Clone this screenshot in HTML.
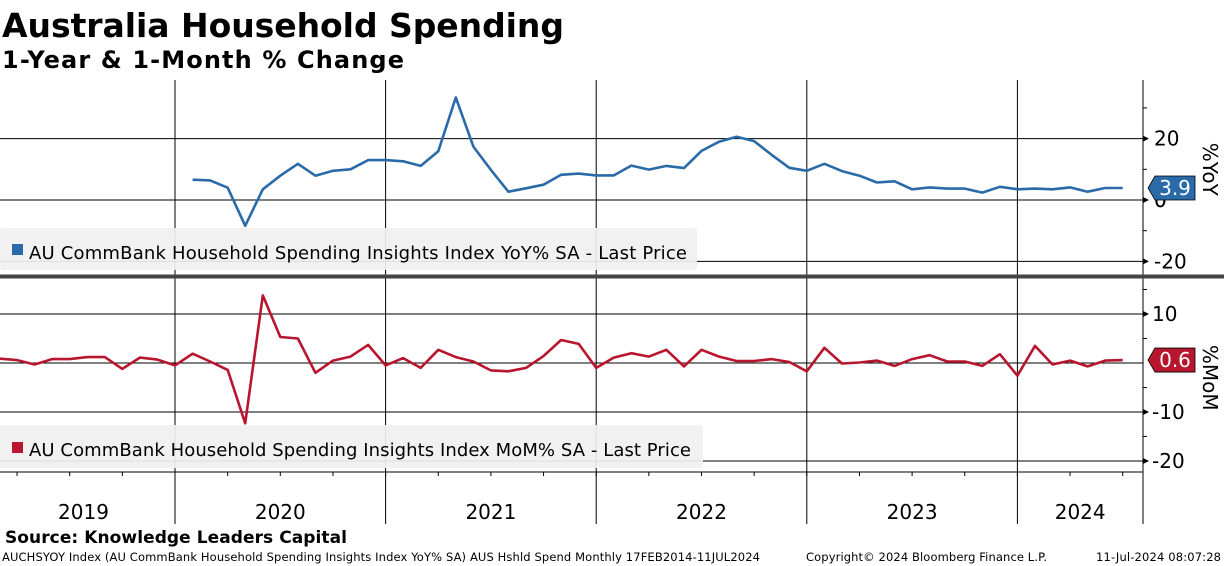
<!DOCTYPE html>
<html><head><meta charset="utf-8"><style>
html,body{margin:0;padding:0;background:#fff;}
svg{display:block;font-family:"DejaVu Sans","Liberation Sans",sans-serif;}
</style></head><body>
<svg id="c" width="1224" height="566" viewBox="0 0 1224 566" xmlns="http://www.w3.org/2000/svg">
<text x="2" y="37" font-size="33" font-weight="bold" textLength="562">Australia Household Spending</text>
<text x="2" y="68" font-size="24" font-weight="bold" textLength="402">1-Year &amp; 1-Month % Change</text>
<g id="grid"></g>
<g id="top-legend">
<rect x="0" y="228" width="697" height="42" rx="3" fill="#f0f0f0" opacity="0.92"/>
<rect x="12" y="244" width="11" height="11" fill="#2a6aa8"/>
<text x="29" y="259" font-size="18" textLength="658">AU CommBank Household Spending Insights Index YoY% SA - Last Price</text>
</g>
<g id="bot-legend">
<rect x="0" y="425" width="703" height="43" rx="3" fill="#f0f0f0" opacity="0.92"/>
<rect x="12" y="442" width="11" height="11" fill="#b8152e"/>
<text x="29" y="456" font-size="18" textLength="662">AU CommBank Household Spending Insights Index MoM% SA - Last Price</text>
</g>
<g id="series"></g>
<rect x="0" y="274.5" width="1224" height="4" fill="#444"/>
<text x="5" y="543" font-size="17" font-weight="bold" textLength="342">Source: Knowledge Leaders Capital</text>
<text x="2" y="561" font-size="11.5" textLength="758">AUCHSYOY Index (AU CommBank Household Spending Insights Index YoY% SA) AUS Hshld Spend  Monthly 17FEB2014-11JUL2024</text>
<text x="806" y="561" font-size="11.5" textLength="241">Copyright© 2024 Bloomberg Finance L.P.</text>
<text x="1096" y="561" font-size="11.5" textLength="125">11-Jul-2024 08:07:28</text>
</svg>
<script>
// month index 0 = Jan 2019
const years = ["2019","2020","2021","2022","2023","2024"];
const yoyStart = 13;
const yoyValues = [6.6,6.4,4.0,-8.4,3.5,7.9,11.8,7.9,9.5,10.0,13.0,
 13.0,12.6,11.1,15.9,33.4,17.4,9.8,2.7,3.8,5.0,8.2,8.6,
 8.0,8.0,11.2,9.9,11.1,10.4,16.0,19.0,20.6,19.2,14.7,10.5,
 9.5,11.8,9.4,7.9,5.7,6.1,3.5,4.1,3.7,3.7,2.4,4.3,
 3.5,3.7,3.5,4.1,2.7,3.9,3.9];
const momStart = 2;
const momValues = [0.9,0.6,-0.3,0.8,0.8,1.2,1.2,-1.2,1.1,0.7,
 -0.5,1.9,0.3,-1.4,-12.3,13.8,5.3,5.0,-2.0,0.5,1.3,3.7,
 -0.5,1.0,-1.0,2.7,1.2,0.3,-1.5,-1.7,-1.0,1.4,4.7,3.9,
 -1.0,1.1,2.0,1.3,2.7,-0.7,2.7,1.3,0.4,0.4,0.8,0.2,
 -1.7,3.1,-0.1,0.1,0.5,-0.6,0.8,1.6,0.3,0.3,-0.6,1.8,
 -2.6,3.5,-0.3,0.5,-0.7,0.5,0.6];
const yoyTicks = [20,0,-20];
const momTicks = [10,-10,-20];

const NS="http://www.w3.org/2000/svg";
const xM = i => 175 + (i-12)*17.55;
const yTop = v => 200 - v*3.07;
const yBot = v => 363 - v*4.9;
const AX = 1143;
function mk(tag, attrs, parent){const e=document.createElementNS(NS,tag);for(const k in attrs)e.setAttribute(k,attrs[k]);parent.appendChild(e);return e;}
const grid=document.getElementById('grid'), ser=document.getElementById('series');

// year lines
for(let y=1;y<years.length;y++){
  const l=mk('line',{x1:xM(y*12),x2:xM(y*12),y1:80,y2:524,stroke:'#000','stroke-width':1},grid);
  
  
}
years.forEach((yr,k)=>{
  const t=mk('text',{x:(Math.max(0,xM(k*12))+Math.min(AX,xM(k*12+12)))/2 + (k==0?-4:0),y:519,'font-size':20,'text-anchor':'middle'},grid);
  t.textContent=yr;
  
  
});
// quarter ticks
for(let q=0;q<24;q++){const x=xM(q*3); if(x<0||x>AX)continue; mk('line',{x1:x,x2:x,y1:472,y2:476,stroke:'#000'},grid);}
mk('line',{x1:0,x2:AX,y1:472,y2:472,stroke:'#000'},grid);
// axes
mk('line',{x1:AX,x2:AX,y1:80,y2:524,stroke:'#000'},grid);
yoyTicks.forEach(v=>{
  const y=yTop(v);
  const g=mk('line',{x1:0,x2:AX,y1:y,y2:y,stroke:'#000'},grid);
  
  
  mk('path',{d:`M${AX} ${y-3}L${AX+6} ${y}L${AX} ${y+3}Z`,fill:'#000'},grid);
  const t=mk('text',{x:AX+11,y:y+7,'font-size':20},grid);
  t.textContent=v;
  
  
});
[30,10,-10].forEach(v=>mk('line',{x1:AX,x2:AX+4,y1:yTop(v),y2:yTop(v),stroke:'#000'},grid));
momTicks.forEach(v=>{
  const y=yBot(v);
  const g=mk('line',{x1:0,x2:AX,y1:y,y2:y,stroke:'#000'},grid);
  
  
  mk('path',{d:`M${AX} ${y-3}L${AX+6} ${y}L${AX} ${y+3}Z`,fill:'#000'},grid);
  const t=mk('text',{x:AX+9,y:y+7,'font-size':20},grid);
  t.textContent=v;
  
  
});
mk('line',{x1:0,x2:AX,y1:yBot(0),y2:yBot(0),stroke:'#000'},grid);
[15,5,-5,-15].forEach(v=>mk('line',{x1:AX,x2:AX+4,y1:yBot(v),y2:yBot(v),stroke:'#000'},grid));
const zt=mk('text',{x:AX+11,y:yTop(0)+7,'font-size':20},grid); zt.textContent='0';
const zb=mk('text',{x:AX+11,y:yBot(0)+7,'font-size':20},grid); zb.textContent='0';

// lines
const pY=yoyValues.map((v,i)=>xM(yoyStart+i).toFixed(1)+','+yTop(v).toFixed(1)).join(' ');
const ly=mk('polyline',{points:pY,fill:'none',stroke:'#2a6aa8','stroke-width':2.6,'stroke-linejoin':'round'},ser);


const pM=momValues.map((v,i)=>xM(momStart+i).toFixed(1)+','+yBot(v).toFixed(1)).join(' ');
const lm=mk('polyline',{points:pM,fill:'none',stroke:'#b8152e','stroke-width':2.6,'stroke-linejoin':'round'},ser);



// last-value tags
function tag(v,y,col,name){
  const g=mk('g',{},ser);
  
  
  mk('path',{d:`M${AX+5} ${y}L${AX+12} ${y-12}H${AX+52}V${y+12}H${AX+12}Z`,fill:col,stroke:'#000','stroke-width':0.8},g);
  const t=mk('text',{x:AX+32,y:y+7,'font-size':20,'text-anchor':'middle',fill:'#fff'},g);
  t.textContent=v.toFixed(1);
}
tag(yoyValues[yoyValues.length-1],yTop(yoyValues[yoyValues.length-1]),'#2a6aa8','yoy-last-value-tag');
tag(momValues[momValues.length-1],yBot(momValues[momValues.length-1]),'#b8152e','mom-last-value-tag');

// rotated axis titles
const r1=mk('text',{x:0,y:0,'font-size':20,transform:`translate(1203,${yTop(10)}) rotate(90)`,'text-anchor':'middle'},ser);
r1.textContent='%YoY';


const r2=mk('text',{x:0,y:0,'font-size':20,transform:`translate(1203,${yBot(-3)}) rotate(90)`,'text-anchor':'middle'},ser);
r2.textContent='%MoM';


</script>
</body></html>
